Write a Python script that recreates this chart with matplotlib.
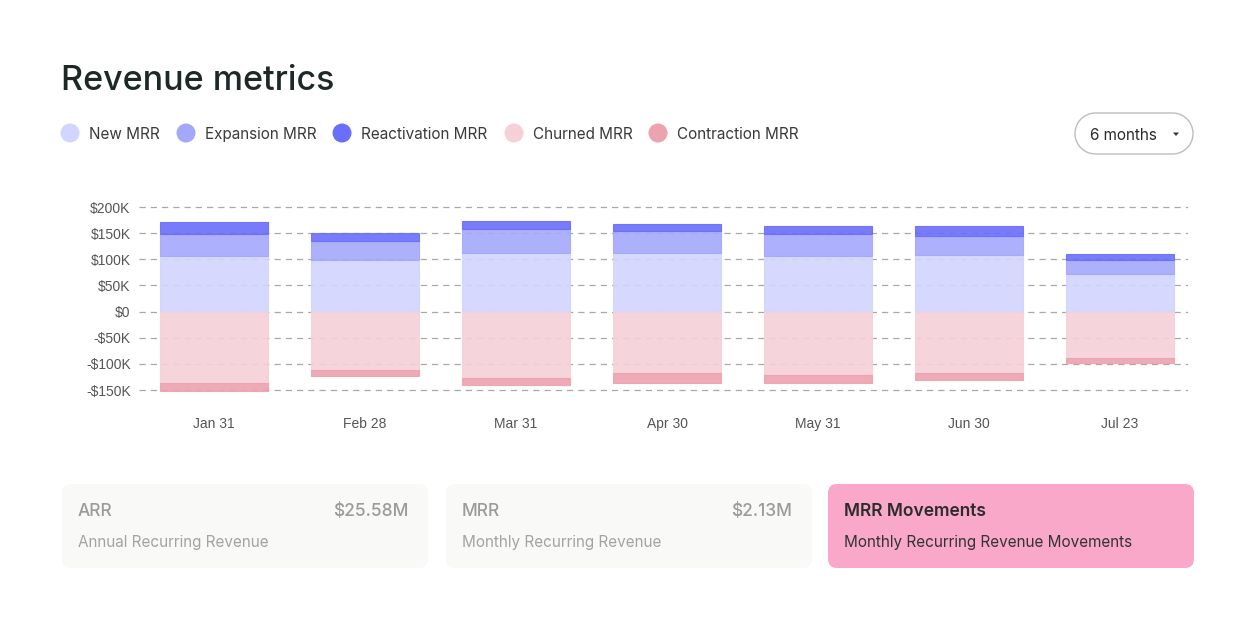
import numpy as np
import matplotlib
matplotlib.use("Agg")
import matplotlib.pyplot as plt
from matplotlib.patches import FancyBboxPatch, Circle, Polygon

# Data (thousands of $)
months = ["Jan 31", "Feb 28", "Mar 31", "Apr 30", "May 31", "Jun 30", "Jul 23"]
new_mrr = [106, 99, 113, 113, 106, 108, 72]
expansion_mrr = [43, 36, 45, 41, 43, 37, 27]
reactivation_mrr = [23, 15, 16, 14.5, 15.5, 18, 10.5]
churned_mrr = [-136, -111, -126, -118, -122, -117, -88]
contraction_mrr = [-15, -13, -14, -18, -15, -14.5, -9.5]

series_names = ["New MRR", "Expansion MRR", "Reactivation MRR", "Churned MRR", "Contraction MRR"]
series_colors = ["#d2d5fd", "#a4a8fb", "#6a6ef8", "#f6d0d7", "#eda2b0"]

yticks = [200, 150, 100, 50, 0, -50, -100, -150]
ytick_labels = ["$200K", "$150K", "$100K", "$50K", "$0", "-$50K", "-$100K", "-$150K"]

cards = [
    ("ARR", "$25.58M", "Annual Recurring Revenue"),
    ("MRR", "$2.13M", "Monthly Recurring Revenue"),
    ("MRR Movements", "", "Monthly Recurring Revenue Movements"),
]

W, H = 1253, 630
fig = plt.figure(figsize=(W / 100, H / 100), dpi=100)
fig.patch.set_facecolor("white")

# overlay axes in pixel coordinates for the UI pieces
ui = fig.add_axes([0, 0, 1, 1])
ui.set_xlim(0, W)
ui.set_ylim(0, H)
ui.axis("off")


def py(y):
    # pixel row (from top) -> overlay y
    return H - y


ui.text(61, py(77), "Revenue metrics", fontsize=24.5, family="Inter", color="#1e2925",
        fontweight="medium", va="center_baseline", ha="left")

legend_x = [70, 186, 342, 514, 658]
for cx, name, col in zip(legend_x, series_names, series_colors):
    ui.add_patch(Circle((cx, py(133)), 9.5, color=col, lw=0))
    ui.text(cx + 19, py(133), name, fontsize=11, family="Inter", color="#3a3a3a",
            va="center_baseline", ha="left")

# dropdown pill
r = 20.5
cy = py(133.5)
t = np.linspace(-np.pi / 2, np.pi / 2, 40)
right_arc = np.column_stack([1193 - r + r * np.cos(t), cy + r * np.sin(t)])
left_arc = np.column_stack([1075 + r - r * np.cos(t), cy - r * np.sin(t)])
ui.add_patch(Polygon(np.vstack([right_arc, left_arc]), closed=True,
                     fc="white", ec="#bdbdbd", lw=1))
ui.text(1090, py(134), "6 months", fontsize=11, family="Inter", color="#2a2a2a",
        va="center_baseline", ha="left")
ui.add_patch(Polygon([[1173, py(132.5)], [1179, py(132.5)], [1176, py(136)]],
                     closed=True, color="#333333", lw=0))

# cards
card_x = [62, 446, 828]
for i, (cx, (title, value, sub)) in enumerate(zip(card_x, cards)):
    active = i == 2
    fc = "#f9a8c9" if active else "#f9f9f7"
    ui.add_patch(FancyBboxPatch((cx, py(568)), 366, 84,
                                boxstyle="round,pad=0,rounding_size=9",
                                fc=fc, ec="none"))
    tcol = "#2b2b2b" if active else "#9b9b9b"
    scol = "#333333" if active else "#a3a3a3"
    ui.text(cx + 16, py(510), title, fontsize=12.5, family="Inter", color=tcol,
            fontweight="semibold" if active else "medium",
            va="center_baseline", ha="left")
    if value:
        ui.text(cx + 346, py(510), value, fontsize=12.5, family="Inter", color=tcol,
                fontweight="medium", va="center_baseline", ha="right")
    ui.text(cx + 16, py(541), sub, fontsize=11, family="Inter", color=scol,
            va="center_baseline", ha="left")

# chart
left, right, top, bottom = 139, 1188, 200, 400
ax = fig.add_axes([left / W, 1 - bottom / H, (right - left) / W, (bottom - top) / H])
ax.set_facecolor("none")

x = np.arange(len(months))
bw = 0.715
pos_base = np.zeros(len(months))
for vals, col, name in zip([new_mrr, expansion_mrr, reactivation_mrr],
                           series_colors[:3], series_names[:3]):
    ax.bar(x, vals, bw, bottom=pos_base, color=col, alpha=0.9, lw=0.8,
           edgecolor=col, zorder=2, label=name)
    pos_base += np.array(vals)
neg_base = np.zeros(len(months))
for vals, col, name in zip([churned_mrr, contraction_mrr],
                           series_colors[3:], series_names[3:]):
    ax.bar(x, vals, bw, bottom=neg_base, color=col, alpha=0.9, lw=0.8,
           edgecolor=col, zorder=2, label=name)
    neg_base += np.array(vals)

ax.set_xlim(-0.497, 6.45)
ax.set_ylim(-169, 213.5)
ax.set_yticks(yticks)
ax.set_yticklabels(ytick_labels, family="Liberation Sans", fontsize=10, color="#555555")
ax.set_xticks(x)
ax.set_xticklabels(months, family="Liberation Sans", fontsize=10, color="#555555")
ax.tick_params(axis="y", length=0, pad=6)
ax.tick_params(axis="x", length=0, pad=12)
ax.yaxis.grid(True, linestyle=(0, (5, 4)), color="#a8a8a8", lw=0.9, zorder=1)
ax.set_axisbelow(True)
for s in ax.spines.values():
    s.set_visible(False)

fig.savefig("out.png", dpi=100, facecolor="white")
